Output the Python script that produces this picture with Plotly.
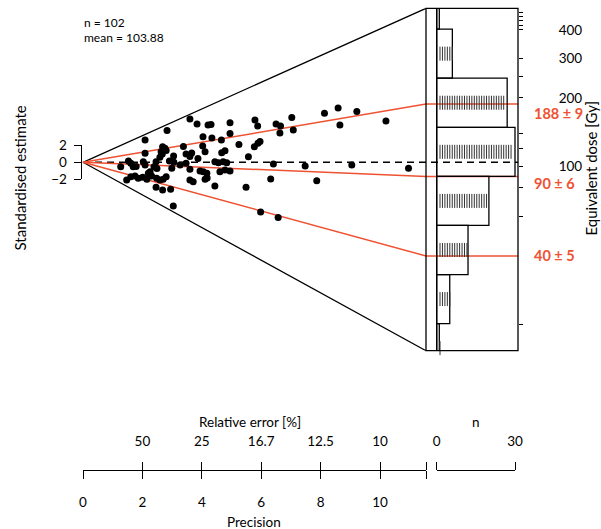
import numpy as np
import plotly.graph_objects as go

# ---- data -------------------------------------------------------------
# precision (1 / relative error) and standardised estimate of each aliquot
precision = [
    3.60, 3.84, 4.21, 4.31, 4.95, 5.79, 5.88, 6.50, 6.65, 6.63,
    7.03, 7.08, 2.83, 4.95, 4.34, 4.66, 4.04, 2.09, 5.25, 5.77,
    5.89, 5.96, 3.38, 2.68, 2.76, 2.63, 2.80, 2.67, 2.59, 2.09,
    3.47, 3.66, 3.60, 4.03, 4.11, 4.67, 4.78, 5.57, 3.87, 8.13,
    8.59, 8.65, 9.22, 10.20, 4.44, 4.56, 4.72, 4.84, 6.41, 7.48,
    9.05, 10.96, 1.53, 1.61, 1.27, 1.69, 2.03, 2.09, 2.46, 2.39,
    2.91, 3.06, 3.27, 3.47, 2.99, 3.60, 3.94, 4.05, 4.17, 4.61,
    4.78, 4.95, 3.60, 3.71, 4.11, 4.18, 4.44, 5.49, 6.32, 7.87,
    2.26, 1.47, 1.61, 1.75, 1.86, 2.01, 2.15, 2.31, 2.48, 2.59,
    2.70, 2.80, 2.46, 2.68, 2.95, 3.04, 5.98, 6.57, 2.20, 2.49,
    3.05, 1.79,
]
std_estimate = [
    5.09, 4.51, 4.39, 4.45, 4.66, 4.98, 4.27, 4.51, 4.27, 3.45,
    5.27, 3.80, 3.74, 3.39, 2.86, 2.62, 3.01, 2.62, 2.09, 1.84,
    2.24, 2.45, 1.86, 1.84, 1.65, 1.25, 1.39, 0.98, 0.59, 1.06,
    0.98, 1.09, 0.68, 1.92, 1.25, 1.13, 1.37, 0.66, 0.45, 5.76,
    6.39, 4.39, 5.98, 4.86, 0.07, -0.05, 0.07, -0.05, -0.20, -0.44,
    -0.32, -0.71, 0.15, -0.12, -0.52, -0.52, 0.07, -0.32, 0.07, -0.52,
    0.15, 0.00, -0.32, -0.12, -0.71, -0.82, -1.02, -1.11, -1.29, -1.11,
    -0.91, -1.02, -2.08, -2.28, -2.00, -1.85, -2.79, -2.94, -1.97, -2.17,
    -1.11, -2.08, -1.69, -1.61, -1.88, -1.77, -2.00, -1.61, -1.88, -2.08,
    -2.00, -1.69, -2.94, -3.26, -3.18, -5.14, -5.85, -6.49, -1.29, -0.73,
    0.74, -0.49,
]

central_de = 103.88              # Gy, reference value (z = 0)
component_de = [188, 90, 40]     # Gy, fitted components
component_err = [9, 6, 5]

# histogram of log equivalent dose
bin_edges_log = [2.5, 3.0, 3.5, 4.0, 4.5, 5.0, 5.5, 6.0, 6.5]
bin_counts = [1, 5, 12, 20, 30, 27, 6, 1]

de_labels = [100, 200, 300, 400]
de_minor = [20, 60, 80, 120, 140, 250, 420, 440, 460, 480]
precision_ticks = [0, 2, 4, 6, 8, 10]
rel_err_ticks_at = [2, 4, 6, 8, 10]
n_ticks = [0, 30]

# ---- layout geometry (pixels) -----------------------------------------
W, H = 601, 529
ORIGIN_X, ORIGIN_Y = 83.0, 162.3
PX_PER_PREC = 29.7
PX_PER_Z = 8.5
ARC_X = 426.0
FRAME_R = 518.0
FRAME_T, FRAME_B = 8.3, 350.7
LEFT = 75.0
HIST_X0 = 436.7
HIST_PX_PER_N = 2.61
AXIS_Y = 470.0
RUG_X0, RUG_STEP = 440.0, 2.45

RED = "#EE5232"
FONT = "Lato"


def fx(px):
    return px / W


def fy(py):
    return 1 - py / H


x_end = (ARC_X - ORIGIN_X) / PX_PER_PREC
x_range = [(LEFT - ORIGIN_X) / PX_PER_PREC, (FRAME_R - ORIGIN_X) / PX_PER_PREC]
z_range = [(ORIGIN_Y - FRAME_B) / PX_PER_Z, (ORIGIN_Y - FRAME_T) / PX_PER_Z]
ln_ref = np.log(central_de)
ln_range = [ln_ref + z_range[0] / x_end, ln_ref + z_range[1] / x_end]
n_range = [(LEFT - HIST_X0) / HIST_PX_PER_N, (FRAME_R - HIST_X0) / HIST_PX_PER_N]

fig = go.Figure()

# histogram of log De on the right
edges = np.array(bin_edges_log)
centres = (edges[:-1] + edges[1:]) / 2
fig.add_trace(go.Bar(
    orientation="h", x=bin_counts, y=centres, width=np.diff(edges),
    marker=dict(color="rgba(0,0,0,0)", line=dict(color="black", width=1.3)),
    xaxis="x2", yaxis="y2", hoverinfo="skip", showlegend=False,
))

# one dash per value inside each bin
rug_x, rug_y = [], []
for c, n in zip(centres, bin_counts):
    for i in range(n):
        rug_x.append((RUG_X0 + RUG_STEP * i - HIST_X0) / HIST_PX_PER_N)
        rug_y.append(c)
fig.add_trace(go.Scatter(
    x=rug_x, y=rug_y, mode="markers", xaxis="x2", yaxis="y2",
    marker=dict(symbol="line-ns", size=10, line=dict(color="#333333", width=1)),
    cliponaxis=False, hoverinfo="skip", showlegend=False,
))

# count baseline of the histogram
fig.add_shape(type="line", xref="x2", yref="paper", x0=0, x1=0,
              y0=fy(FRAME_B), y1=fy(FRAME_T), line=dict(color="black", width=1.3))

# outline of the radial plot
z_top = x_end * (ln_range[1] - ln_ref)
z_bot = x_end * (ln_range[0] - ln_ref)
fig.add_trace(go.Scatter(
    x=[x_end, 0, x_end], y=[z_top, 0, z_bot], mode="lines",
    line=dict(color="black", width=1.3), hoverinfo="skip", showlegend=False,
))

# reference line (central value)
fig.add_trace(go.Scatter(
    x=[0, x_range[1]], y=[0, 0], mode="lines",
    line=dict(color="black", width=1.4, dash="7px,5px"),
    hoverinfo="skip", showlegend=False,
))

# component lines
for de in component_de:
    z = x_end * (np.log(de) - ln_ref)
    fig.add_trace(go.Scatter(
        x=[0, x_end, x_range[1]], y=[0, z, z], mode="lines",
        line=dict(color=RED, width=1.5), hoverinfo="skip", showlegend=False,
    ))

# aliquots
fig.add_trace(go.Scatter(
    x=precision, y=std_estimate, mode="markers",
    marker=dict(color="black", size=7, line=dict(width=0)),
    showlegend=False,
))

# frame around the dose scale
fig.add_shape(type="rect", xref="paper", yref="paper",
              x0=fx(ARC_X), x1=fx(FRAME_R), y0=fy(FRAME_B), y1=fy(FRAME_T),
              line=dict(color="black", width=1.3))

# carriers for the stand-alone axes
for xa, ya in [("x3", "y"), ("x4", "y"), ("x5", "y"), ("x", "y4")]:
    fig.add_trace(go.Scatter(x=[None], y=[None], xaxis=xa, yaxis=ya,
                             showlegend=False, hoverinfo="skip"))

tickfont = dict(family=FONT, size=13.5, color="black")
axis_common = dict(showgrid=False, zeroline=False, showline=True,
                   linecolor="black", linewidth=1.3, ticks="outside",
                   tickcolor="black", tickwidth=1.3, tickfont=tickfont,
                   automargin=False)

rel_vals = list(rel_err_ticks_at) + [x_end]
rel_text = [f"{100 / p:.3g}" for p in rel_err_ticks_at] + [""]
prec_vals = list(precision_ticks) + [x_end]
prec_text = [str(p) for p in precision_ticks] + [""]

de_vals = [np.log(v) for v in de_labels] + [np.log(v) for v in de_minor]
de_text = [str(v) for v in de_labels] + [""] * len(de_minor)

fig.update_layout(
    template="none",
    width=W, height=H, autosize=False,
    margin=dict(l=0, r=0, t=0, b=0, pad=0, autoexpand=False),
    paper_bgcolor="white", plot_bgcolor="rgba(0,0,0,0)",
    font=dict(family=FONT, color="black"),
    xaxis=dict(domain=[fx(LEFT), fx(FRAME_R)], range=x_range, visible=False,
               automargin=False),
    yaxis=dict(domain=[fy(FRAME_B), fy(FRAME_T)], range=z_range, visible=False,
               automargin=False),
    xaxis2=dict(overlaying="x", range=n_range, visible=False, automargin=False),
    yaxis2=dict(overlaying="y", range=ln_range, side="right", anchor="free",
                position=fx(FRAME_R), showgrid=False, zeroline=False,
                showline=False, ticks="outside", ticklen=4, tickcolor="black",
                tickwidth=1.2, tickvals=de_vals, ticktext=de_text,
                tickfont=tickfont, ticklabelstandoff=33, automargin=False),
    xaxis3=dict(domain=[fx(ORIGIN_X), fx(ARC_X)], range=[0, x_end],
                anchor="free", position=fy(AXIS_Y), side="bottom",
                ticklen=8, tickvals=prec_vals, ticktext=prec_text,
                ticklabelstandoff=12, **axis_common),
    xaxis4=dict(domain=[fx(ORIGIN_X), fx(ARC_X)], range=[0, x_end],
                anchor="free", position=fy(AXIS_Y), side="top",
                ticklen=8, tickvals=rel_vals, ticktext=rel_text,
                ticklabelstandoff=10, **axis_common),
    xaxis5=dict(domain=[fx(HIST_X0), fx(HIST_X0 + 30 * HIST_PX_PER_N)],
                range=[0, 30], anchor="free", position=fy(AXIS_Y), side="top",
                ticklen=8, tickvals=n_ticks, ticktext=[str(v) for v in n_ticks],
                ticklabelstandoff=10, **axis_common),
    yaxis4=dict(domain=[fy(ORIGIN_Y + 2 * PX_PER_Z), fy(ORIGIN_Y - 2 * PX_PER_Z)],
                range=[-2, 2], anchor="free", position=fx(80.7), side="left",
                ticklen=7, tickvals=[-2, 0, 2], ticktext=["\u22122", "0", "2"],
                ticklabelstandoff=4, **axis_common),
)

ann = []


def note(text, x, y, size=13.5, angle=0, xanchor="center", color="black"):
    ann.append(dict(text=text, x=fx(x), y=fy(y), xref="paper", yref="paper",
                    showarrow=False, textangle=angle, xanchor=xanchor,
                    yanchor="middle", font=dict(family=FONT, size=size, color=color)))


note(f"n = {len(precision)}", 82, 22.5, size=12, xanchor="left")
note(f"mean = {central_de:.2f}", 82, 37, size=12, xanchor="left")
note("Standardised estimate", 19, 178.5, size=15, angle=-90)
note("Equivalent dose [Gy]", 590, 168.5, size=15, angle=-90)
note("Relative error [%]", 250, 421.7)
note("Precision", 254, 521.7)
note("n", HIST_X0 + 15 * HIST_PX_PER_N, 422)

label_shift = [-9, -7, 0]
for de, err, dy in zip(component_de, component_err, label_shift):
    ann.append(dict(text=f"<b>{de} \u00b1 {err}</b>", x=fx(532), y=np.log(de),
                    xref="paper", yref="y2", yshift=dy, showarrow=False,
                    xanchor="left", yanchor="middle",
                    font=dict(family=FONT, size=14.5, color=RED)))

fig.update_layout(annotations=ann)
fig.write_html("out.html")
